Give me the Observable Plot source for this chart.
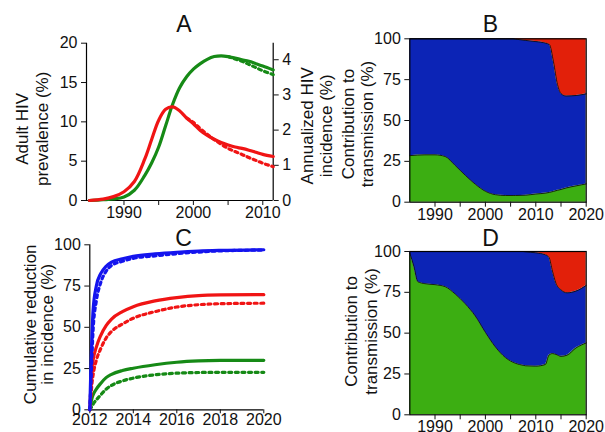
<!DOCTYPE html>
<html><head><meta charset="utf-8">
<script src="https://cdn.jsdelivr.net/npm/d3@7"></script>
<script src="https://cdn.jsdelivr.net/npm/@observablehq/plot@0.6"></script>
<style>
body{margin:0;background:#fff;}
#c{position:relative;width:605px;height:432px;font-family:"Liberation Sans",Arial,sans-serif;}
#c svg{position:absolute;left:0;top:0;}
</style></head><body><div id="c"></div>
<script>
// ---------- Panel A data ----------
const aYears = [1985,1987,1988.5,1990,1991.5,1993,1994,1995,1996,1997,1998,1999,2000,2001,2002,2003,2004,2005,2006,2007,2008,2009,2010,2011.5];
const aPrevalence = [0,0.1,0.2,0.45,1.3,3.2,4.8,6.8,9.5,12.2,14.3,15.7,16.7,17.4,17.95,18.3,18.4,18.3,18.1,17.9,17.7,17.4,17.1,16.6];
const aIncidence = [0,0.04,0.11,0.25,0.54,1.18,1.74,2.28,2.59,2.66,2.55,2.35,2.18,1.99,1.85,1.74,1.65,1.58,1.52,1.48,1.43,1.37,1.31,1.25];
const aPrevDotYears = [2005,2006,2007,2008,2009,2010,2011.5];
const aPrevDotted = [18.3,18.0,17.7,17.3,16.9,16.5,16.0];
const aIncDotYears = [1999,2000,2001,2002,2003,2004,2005,2006,2007,2008,2009,2010,2011.5];
const aIncDotted = [2.35,2.22,2.04,1.88,1.73,1.60,1.48,1.39,1.31,1.22,1.14,1.06,0.96];
const aPrevTicks = [0,5,10,15,20];
const aIncTicks = [0,1,2,3,4];
const aXTicks = [1990,1995,2000,2005,2010];

// ---------- Panel B data ----------
const bYears = [1985,1988,1990,1992,1994,1996,1998,2000,2002,2004,2005.5,2006,2008,2010,2012,2012.7,2013.5,2014.3,2015,2016,2018,2020];
const bGreen = [28.5,29,29,28,22.5,16.5,11,6.7,4.6,4.1,4.1,4.1,4.3,5,5.6,6,6.6,7.3,7.8,8.7,10,11.2];
const bTop   = [100,100,100,100,100,100,100,100,100,100,100,99.8,99,98.3,97.3,96.5,86,72,66.5,65,65.3,66.3];

// ---------- Panel C data ----------
const cYears = [2012,2012.05,2012.1,2012.15,2012.3,2012.5,2012.75,2013,2013.5,2014,2015,2016,2017,2018,2020];
const cBlueSolid  = [0,25,45,60,75,82.5,87,89.5,91.5,93,94.5,95.5,96.2,96.6,97];
const cBlueDotted = [0,15,33,48,66,77,84,87.5,90,91.8,93.3,94.6,95.6,96.3,96.8];
const cRedSolid   = [0,14,25,30,38,45,51,55,59.5,62.5,66,68,69.2,69.6,69.8];
const cRedDotted  = [0,8,16,21,30,37,43.5,47.5,52,55.5,59.5,62.3,63.7,64.3,64.6];
const cGreenSolid = [0,4,7,9,12.5,16,19.5,21.5,23.8,25.2,27.3,28.8,29.6,29.9,30];
const cGreenDotted= [0,1,2.2,3.4,6,9,12.5,14.8,17.5,19.2,21.2,22.2,22.6,22.7,22.7];
const cXTicks = [2012,2014,2016,2018,2020];

// ---------- Panel D data ----------
const dYears = [1985,1985.8,1986.6,1988,1990,1992,1994,1996,1998,2000,2002,2004,2006,2007.5,2008,2010,2011.9,2012.6,2013.3,2014,2015,2016.2,2018,2020];
const dGreen = [99,91,81.5,80.3,79.7,78.5,74,68,60.5,50.5,41.5,35,31.5,30.3,30,29.8,30.8,36.5,37.5,37,35.8,36.5,41,44];
const dTop   = [100,100,100,100,100,100,100,100,100,100,100,100,100,100,99.8,99.2,98,96.5,88,80.5,76.5,74.7,75.8,79.2];

const shareTicks = [0,25,50,75,100];
const shareXTicks = [1990,1995,2000,2005,2010,2015,2020];

// ---------- styling ----------
const W = 605, H = 432;
const FONT = "Liberation Sans, Arial, sans-serif";
const GREEN_LINE = "#168a16", RED_LINE = "#f01414", BLUE_LINE = "#1414ee";
const GREEN_FILL = "#3cae12", BLUE_FILL = "#0c24b6", RED_FILL = "#e2200a";
const LW = 3.2, DASH = "3,3.6";
const tickFont = 16, labelFont = 17;

function frame(left, right, top, bottom) {
  return {width: W, height: H, marginLeft: left, marginRight: W - right, marginTop: top, marginBottom: H - bottom};
}
const baseStyle = {background: "transparent", overflow: "visible", fontFamily: FONT, color: "#111"};
const zip = (xs, ys) => xs.map((x, i) => ({x, y: ys[i]}));
const vlabel = (txt, anchor, dx, dy, lh) => Plot.text([txt], {text: d => d, frameAnchor: anchor, rotate: -90, dx, dy, fontSize: labelFont, lineHeight: lh, textAnchor: "middle", lineAnchor: "middle"});
const title = (txt, dx, dy) => Plot.text([txt], {text: d => d, frameAnchor: "top", dx, dy, fontSize: 23, textAnchor: "middle", lineAnchor: "middle"});

const container = document.getElementById("c");

// ---------- Panel A ----------
const K = 20 / 4.47;
const aDom = [1984.6, 2011.5];
const plotA = Plot.plot({
  ...frame(86, 272.7, 42.7, 200),
  style: baseStyle,
  x: {domain: aDom, label: null},
  y: {domain: [0, 20], label: null},
  marks: [
    Plot.ruleX([aDom[0], aDom[1]], {stroke: "#000", strokeWidth: 1.2}),
    Plot.ruleY([0], {stroke: "#000", strokeWidth: 1.2}),
    Plot.axisY({ticks: aPrevTicks, tickSize: 5, tickPadding: 4, fontSize: tickFont, label: null, tickFormat: d => String(d)}),
    Plot.axisY({anchor: "right", ticks: aIncTicks.map(v => v * K), tickSize: 5, tickPadding: 4, fontSize: tickFont, label: null, tickFormat: d => String(Math.round(d / K))}),
    Plot.axisX({ticks: aXTicks, tickSize: 5, tickPadding: 1, fontSize: tickFont, label: null, tickFormat: d => d % 10 === 0 ? String(d) : ""}),
    Plot.line(zip(aYears, aPrevalence), {x: "x", y: "y", stroke: GREEN_LINE, strokeWidth: LW, curve: "catmull-rom"}),
    Plot.line(zip(aPrevDotYears, aPrevDotted), {x: "x", y: "y", stroke: GREEN_LINE, strokeWidth: LW, strokeDasharray: DASH, curve: "catmull-rom"}),
    Plot.line(zip(aYears, aIncidence), {x: "x", y: d => d.y * K, stroke: RED_LINE, strokeWidth: LW, curve: "catmull-rom"}),
    Plot.line(zip(aIncDotYears, aIncDotted), {x: "x", y: d => d.y * K, stroke: RED_LINE, strokeWidth: LW, strokeDasharray: DASH, curve: "catmull-rom"}),
    title("A", 4, -18.7),
    vlabel("Adult HIV\nprevalence (%)", "left", -54.5, 7, 1.15),
    vlabel("Annualized HIV\nincidence (%)", "right", 43.5, 4, 1.1)
  ]
});
container.appendChild(plotA);

// ---------- Share panels (B, D) ----------
function sharePanel(years, green, top, fr, t, tdx, tdy, ldx, ldy) {
  const rows = years.map((year, i) => ({year, g: green[i], t: top[i]}));
  return Plot.plot({
    ...fr,
    style: baseStyle,
    x: {domain: [1985, 2020], label: null},
    y: {domain: [0, 100], label: null},
    marks: [
      Plot.areaY(rows, {x: "year", y1: 0, y2: "g", fill: GREEN_FILL, curve: "monotone-x"}),
      Plot.areaY(rows, {x: "year", y1: "g", y2: "t", fill: BLUE_FILL, curve: "monotone-x"}),
      Plot.areaY(rows, {x: "year", y1: "t", y2: 100, fill: RED_FILL, curve: "monotone-x"}),
      Plot.line(rows, {x: "year", y: "g", stroke: "#111", strokeWidth: 0.9, curve: "monotone-x"}),
      Plot.line(rows, {x: "year", y: "t", stroke: "#111", strokeWidth: 0.9, curve: "monotone-x"}),
      Plot.frame({stroke: "#000", strokeWidth: 1.2}),
      Plot.axisY({ticks: shareTicks, tickSize: 5, tickPadding: 4, fontSize: tickFont, label: null, tickFormat: d => String(d)}),
      Plot.axisX({ticks: shareXTicks, tickSize: 5, tickPadding: 1, fontSize: tickFont, label: null, tickFormat: d => d % 10 === 0 ? String(d) : ""}),
      title(t, tdx, tdy),
      vlabel("Contribution to\ntransmission (%)", "left", ldx, ldy, 1.15)
    ]
  });
}
container.appendChild(sharePanel(bYears, bGreen, bTop, frame(409.3, 585.7, 38.3, 201.7), "B", -7.5, -14.3, -52.6, 3.5));
container.appendChild(sharePanel(dYears, dGreen, dTop, frame(409.3, 585.7, 251, 414.3), "D", -7.5, -12.7, -49, -1.7));

// ---------- Panel C ----------
const cDom = [2012, 2020];
const cLine = (ys, color, dotted) => Plot.line(zip(cYears, ys), {x: "x", y: "y", stroke: color, strokeWidth: LW, curve: "monotone-x", ...(dotted ? {strokeDasharray: DASH} : {})});
const plotC = Plot.plot({
  ...frame(89.3, 263.3, 244.3, 409.3),
  style: baseStyle,
  x: {domain: cDom, label: null},
  y: {domain: [0, 100], label: null},
  marks: [
    Plot.ruleX([cDom[0]], {stroke: "#000", strokeWidth: 1.2}),
    Plot.ruleY([0], {stroke: "#000", strokeWidth: 1.2}),
    Plot.axisY({ticks: shareTicks, tickSize: 5, tickPadding: 4, fontSize: tickFont, label: null, tickFormat: d => String(d)}),
    Plot.axisX({ticks: cXTicks, tickSize: 4, tickPadding: 0, fontSize: tickFont, label: null, tickFormat: d => String(d)}),
    cLine(cGreenDotted, GREEN_LINE, true),
    cLine(cGreenSolid, GREEN_LINE, false),
    cLine(cRedDotted, RED_LINE, true),
    cLine(cRedSolid, RED_LINE, false),
    cLine(cBlueDotted, BLUE_LINE, true),
    cLine(cBlueSolid, BLUE_LINE, false),
    title("C", 6.7, -6),
    vlabel("Cumulative reduction\nin incidence (%)", "left", -51, -3, 1.0)
  ]
});
container.appendChild(plotC);
</script></body></html>
